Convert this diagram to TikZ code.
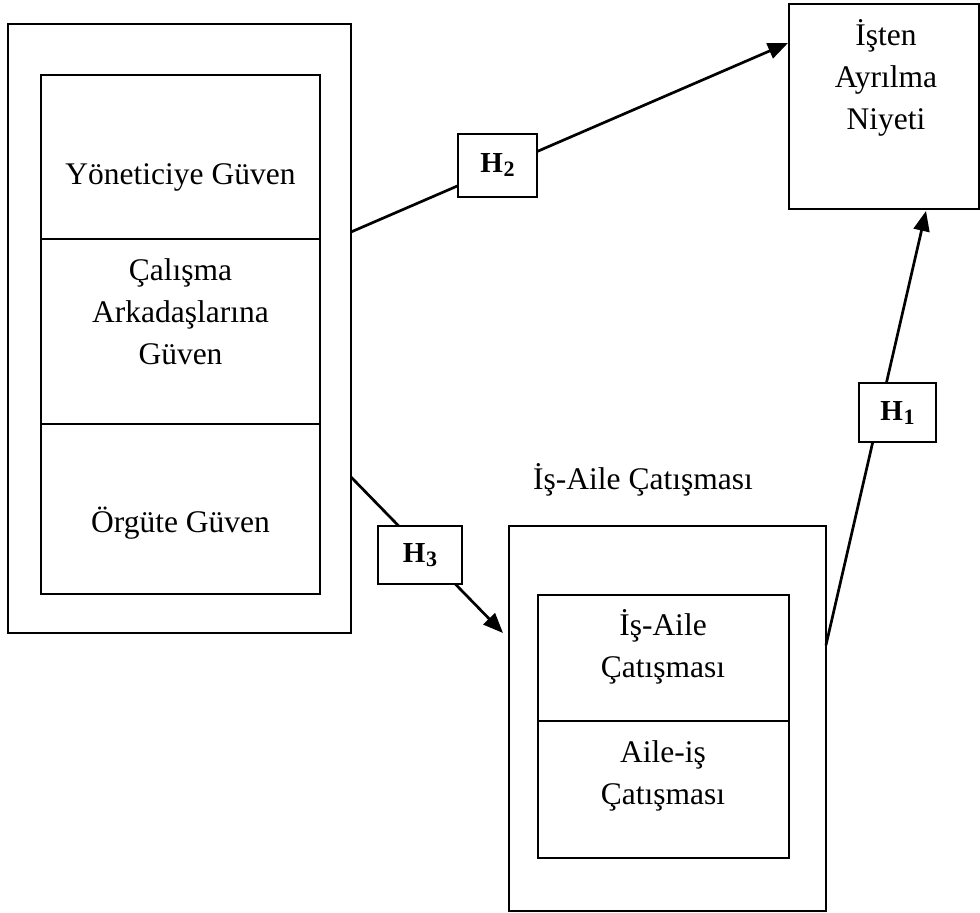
\documentclass[tikz,border=0pt]{standalone}
\usepackage{fontspec}
\setmainfont{Liberation Serif}
\usetikzlibrary{arrows.meta}
\newcommand{\hlab}[1]{\textbf{H\kern0.5pt\raisebox{-4pt}{\fontsize{22}{22}\selectfont #1}}}
\begin{document}
\begin{tikzpicture}[x=1pt,y=-1pt,
  box/.style={draw, line width=1.9pt, inner sep=0pt, outer sep=0pt, anchor=north west},
  txt/.style={anchor=base, inner sep=0pt, font=\fontsize{31.5}{42}\selectfont},
  hbox/.style={draw, line width=2pt, fill=white, inner sep=0pt, outer sep=0pt,
    font=\fontsize{29}{32}\selectfont},
  conn/.style={line width=2.7pt, -{Triangle[length=20pt,width=16pt]}}]
\useasboundingbox (0,0) rectangle (980,913);

% left group
\node[box, minimum width=343pt, minimum height=609pt] (outerL) at (8,24) {};
\node[box, minimum width=279pt, minimum height=164pt] (secA) at (41,75) {};
\node[box, minimum width=279pt, minimum height=185pt] (secB) at (41,239) {};
\node[box, minimum width=279pt, minimum height=170pt] (secC) at (41,424) {};
\node[txt] (tA) at (180.5,184) {Yöneticiye Güven};
\node[txt] (tB) at (180.5,280) {\begin{tabular}[t]{@{}c@{}}Çalışma\\Arkadaşlarına\\Güven\end{tabular}};
\node[txt] (tC) at (180.5,532) {Örgüte Güven};

% top right
\node[box, minimum width=190pt, minimum height=205pt] (niyet) at (789,4) {};
\node[txt] (tN) at (886,45) {\begin{tabular}[t]{@{}c@{}}İşten\\Ayrılma\\Niyeti\end{tabular}};

% bottom right
\node[txt] (tIA) at (643,489) {İş-Aile Çatışması};
\node[box, minimum width=317pt, minimum height=385pt] (outerR) at (509,526) {};
\node[box, minimum width=251pt, minimum height=126pt] (secR1) at (538,595) {};
\node[box, minimum width=251pt, minimum height=137pt] (secR2) at (538,721) {};
\node[txt] (tR1) at (663,635) {\begin{tabular}[t]{@{}c@{}}İş-Aile\\Çatışması\end{tabular}};
\node[txt] (tR2) at (663,762) {\begin{tabular}[t]{@{}c@{}}Aile-iş\\Çatışması\end{tabular}};

% connector end points
\path (outerL.north east) ++(0,208) coordinate (s2);
\path (outerL.north east) ++(0,453) coordinate (s3);
\path (niyet.north west) ++(-1,39) coordinate (t2);
\path (niyet.south west) ++(137,2) coordinate (t1);
\path (outerR.north east) ++(0,119) coordinate (s1);
\path (outerR.north west) ++(-6,107) coordinate (t3);

\draw[conn] (s2) -- (t2);
\draw[conn] (s3) -- (t3);
\draw[conn] (s1) -- (t1);

% hypothesis labels
\node[hbox, minimum width=79pt, minimum height=63pt] (h2) at (497.5,165.5) {\hlab{2}};
\node[hbox, minimum width=84pt, minimum height=58pt] (h3) at (420,555) {\hlab{3}};
\node[hbox, minimum width=77pt, minimum height=59pt] (h1) at (897.5,412.5) {\hlab{1}};
\end{tikzpicture}
\end{document}
